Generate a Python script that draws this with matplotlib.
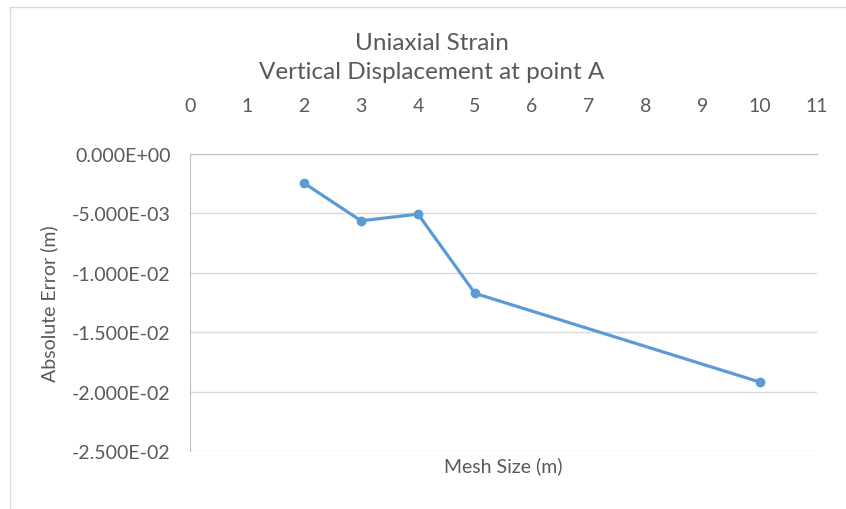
import matplotlib.pyplot as plt
import matplotlib.patches as patches
from matplotlib.ticker import FuncFormatter

mesh_size = [2, 3, 4, 5, 10]
abs_error = [-0.00245, -0.00562, -0.00506, -0.01173, -0.0192]
x_ticks = list(range(0, 12))
y_ticks = [0, -0.005, -0.010, -0.015, -0.020, -0.025]

plt.rcParams['font.family'] = ['Lato', 'DejaVu Sans']
txt = '#595959'

fig = plt.figure(figsize=(8.46, 5.10), dpi=100)
# chart area border (Excel style), only top/left visible
fig.patches.append(patches.Rectangle((10 / 846, -0.1), 2, (1 - 8 / 510) + 0.1,
                                     transform=fig.transFigure, fill=False,
                                     edgecolor='#D9D9D9', linewidth=1))
ax = fig.add_axes([190 / 846, 1 - 452 / 510, (817 - 190) / 846, (452 - 155) / 510])

ax.plot(mesh_size, abs_error, color='#5B9BD5', linewidth=2.3, marker='o',
        markersize=6, solid_capstyle='round', zorder=3)

ax.set_xlim(0, 11)
ax.set_ylim(-0.025, 0)
ax.set_xticks(x_ticks)
ax.set_yticks(y_ticks)
ax.yaxis.set_major_formatter(FuncFormatter(lambda v, p: '{:.3E}'.format(0.0 if abs(v) < 1e-12 else v)))
ax.xaxis.tick_top()
ax.tick_params(axis='both', length=0, labelsize=14, colors=txt)
ax.tick_params(axis='x', pad=29)
ax.tick_params(axis='y', pad=14)
ax.grid(axis='y', color='#D9D9D9', linewidth=1)
for s in ['right', 'bottom']:
    ax.spines[s].set_visible(False)
ax.spines['top'].set_color('#BFBFBF')
ax.spines['left'].set_color('#BFBFBF')

ax.set_xlabel('Mesh Size (m)', fontsize=14, color=txt)
ax.xaxis.set_label_position('bottom')
ax.xaxis.labelpad = 4
ax.set_ylabel('Absolute Error (m)', fontsize=14, color=txt)
ax.yaxis.set_label_coords((58 - 190) / (817 - 190), 0.5)

fig.text(432 / 846, 1 - 43 / 510, 'Uniaxial Strain', ha='center', va='center', fontsize=17.5, color=txt)
fig.text(432 / 846, 1 - 73 / 510, 'Vertical Displacement at point A', ha='center', va='center', fontsize=17.5, color=txt)

fig.savefig('out.png', dpi=100)
